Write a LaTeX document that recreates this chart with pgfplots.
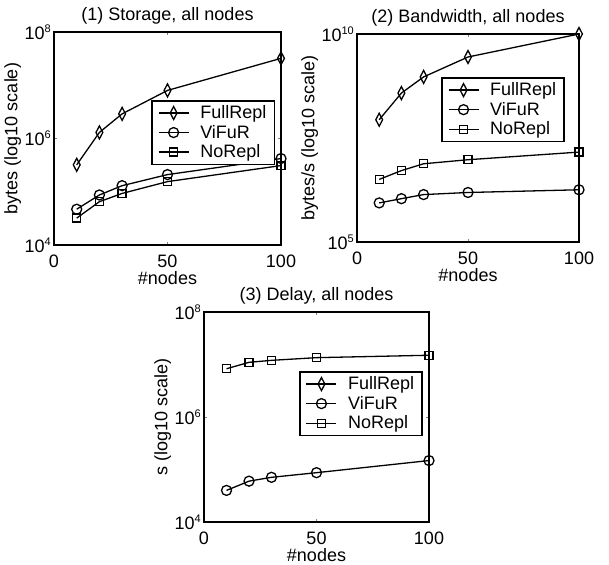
\documentclass[border=0pt]{standalone}
\usepackage{fontspec}
\setmainfont{Liberation Sans}
\usepackage{pgfplots}
\pgfplotsset{compat=1.18}

% tick label like 10^n with a small raised exponent
\newcommand{\tp}[1]{10\raisebox{7pt}{\fontsize{11}{11}\selectfont #1}}
\newcommand{\lgd}[1]{\hspace{9pt}#1}

\pgfplotsset{
  every axis/.append style={
    scale only axis,
    anchor=south west,
    xmin=0, xmax=100,
    xtick={0,50,100}, xticklabels={0,50,100},
    axis line style={line width=1.6pt},
    major tick length=3pt,
    tick align=inside,
    tick style={line width=0.8pt},
    xlabel={\#nodes},
    xticklabel style={yshift=-6pt},
    xlabel style={yshift=3pt},
    yticklabel style={inner sep=0pt, xshift=-3pt},
    title style={yshift=-2pt},
    legend cell align=left,
    legend style={line width=1.6pt, inner xsep=6pt, inner ysep=3pt, row sep=1pt},
  },
  every axis plot/.append style={black, line width=1.3pt},
  legend image code/.code={
    \draw[mark repeat=2,mark phase=2,line width=1.3pt,#1]
      plot coordinates {(0pt,0pt) (15pt,0pt) (30pt,0pt)};},
  dmd/.style={mark=diamond, mark size=6.5pt, mark options={xscale=0.7, solid}},
  crc/.style={mark=o, mark size=5pt},
  sqr/.style={mark=square, mark size=4pt},
}

\begin{document}
\begin{tikzpicture}[font=\fontsize{18}{21}\selectfont]
\path (0pt,0pt) rectangle (609pt,564pt);

% (1) Storage
\begin{axis}[ymode=log,
  at={(54pt,319pt)}, width=227pt, height=213pt,
  ymin=1e4, ymax=1e8,
  ytick={1e4,1e6,1e8}, yticklabels={\tp{4},\tp{6},\tp{8}},
  ylabel={bytes (log10 scale)},
  title={(1) Storage, all nodes},
  legend style={at={(0.974,0.681)}, anchor=north east},
]
\addplot[dmd] coordinates {(10,3.2e5) (20,1.3e6) (30,2.9e6) (50,8.0e6) (100,3.2e7)};
\addplot[crc] coordinates {(10,4.7e4) (20,8.7e4) (30,1.3e5) (50,2.1e5) (100,4.2e5)};
\addplot[sqr] coordinates {(10,3.2e4) (20,6.5e4) (30,9.3e4) (50,1.55e5) (100,3.1e5)};
\legend{\lgd{FullRepl},\lgd{ViFuR},\lgd{NoRepl}}
\end{axis}

% (2) Bandwidth
\begin{axis}[ymode=log,
  at={(357pt,322pt)}, width=222pt, height=208pt,
  ymin=1e5, ymax=1e10,
  ytick={1e5,1e10}, yticklabels={\tp{5},\tp{10}},
  ylabel={bytes/s (log10 scale)},
  title={(2) Bandwidth, all nodes},
  legend style={at={(0.937,0.793)}, anchor=north east},
]
\addplot[dmd] coordinates {(10,8.7e7) (20,3.8e8) (30,9.3e8) (50,2.8e9) (100,1e10)};
\addplot[crc] coordinates {(10,8.7e5) (20,1.1e6) (30,1.38e6) (50,1.55e6) (100,1.8e6)};
\addplot[sqr] coordinates {(10,3.2e6) (20,5.2e6) (30,7.6e6) (50,9.5e6) (100,1.45e7)};
\legend{\lgd{FullRepl},\lgd{ViFuR},\lgd{NoRepl}}
\end{axis}

% (3) Delay
\begin{axis}[ymode=log,
  at={(204pt,42pt)}, width=225pt, height=210pt,
  ymin=1e4, ymax=1e8,
  ytick={1e4,1e6,1e8}, yticklabels={\tp{4},\tp{6},\tp{8}},
  ylabel={s (log10 scale)},
  title={(3) Delay, all nodes},
  legend style={at={(0.973,0.719)}, anchor=north east},
]
\addlegendimage{black, line width=1.3pt, dmd}
\addplot[crc] coordinates {(10,4.0e4) (20,6.0e4) (30,7.1e4) (50,8.7e4) (100,1.48e5)};
\addplot[sqr] coordinates {(10,8.3e6) (20,1.1e7) (30,1.2e7) (50,1.35e7) (100,1.5e7)};
\legend{\lgd{FullRepl},\lgd{ViFuR},\lgd{NoRepl}}
\end{axis}
\end{tikzpicture}
\end{document}
